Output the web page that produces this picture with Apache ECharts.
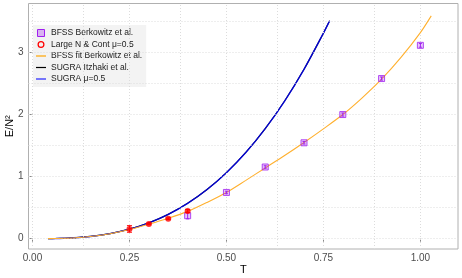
<!DOCTYPE html>
<html>
<head>
<meta charset="utf-8">
<script src="https://cdn.jsdelivr.net/npm/echarts@6/dist/echarts.min.js"></script>
<style>html,body{margin:0;padding:0;background:#fff}#c{width:462px;height:278px}</style>
</head>
<body>
<div id="c"></div>
<script>
// ---- data ----
const xTicks = [0, 0.25, 0.5, 0.75, 1.0];
const yTicks = [0, 1, 2, 3];
const xGrid = [0, 0.125, 0.25, 0.375, 0.5, 0.625, 0.75, 0.875, 1.0];
const yGrid = [0, 0.5, 1, 1.5, 2, 2.5, 3, 3.5];

const bfssT = [0.4, 0.5, 0.6, 0.7, 0.8, 0.9, 1.0];
const bfssE = [0.37, 0.745, 1.155, 1.545, 2.0, 2.58, 3.115];
const bfssErr = [0.05, 0.02, 0.02, 0.02, 0.025, 0.025, 0.03];

const largeNT = [0.25, 0.3, 0.35, 0.4];
const largeNE = [0.157, 0.237, 0.322, 0.446];
const largeNErr = [0.053, 0.012, 0.012, 0.025];

const fitT = [0.04, 0.06, 0.08, 0.1, 0.15, 0.2, 0.25, 0.3, 0.35, 0.4, 0.45, 0.5, 0.55, 0.6, 0.65, 0.7, 0.75, 0.8, 0.85, 0.9, 0.95, 1.0, 1.028];
const fitE = [0.001, 0.003, 0.006, 0.011, 0.036, 0.08, 0.148, 0.235, 0.33, 0.44, 0.585, 0.745, 0.94, 1.14, 1.34, 1.55, 1.77, 2.0, 2.27, 2.57, 2.92, 3.32, 3.59];

const sugraT = [0.04, 0.06, 0.08, 0.1, 0.15, 0.2, 0.25, 0.3, 0.35, 0.4, 0.45, 0.5, 0.55, 0.6, 0.65, 0.7, 0.75, 0.766];
const sugraE = [0.0009, 0.0028, 0.0063, 0.0117, 0.0365, 0.082, 0.153, 0.255, 0.392, 0.570, 0.792, 1.064, 1.389, 1.773, 2.218, 2.729, 3.311, 3.51];

const names = ['BFSS Berkowitz et al.', 'Large N & Cont \u03bc=0.5', 'BFSS fit Berkowitz et al.', 'SUGRA Itzhaki et al.', 'SUGRA \u03bc=0.5'];

// ---- build ----
const zip = (a, b) => a.map((v, i) => [v, b[i]]);
const errData = (t, e, d) => t.map((v, i) => [v, e[i] - d[i], e[i] + d[i]]);

function errRender(half, color) {
  return function (params, api) {
    const x = api.value(0);
    const lo = api.coord([x, api.value(1)]);
    const hi = api.coord([x, api.value(2)]);
    const st = { stroke: color, lineWidth: 1 };
    return {
      type: 'group',
      children: [
        { type: 'line', shape: { x1: lo[0], y1: lo[1], x2: hi[0], y2: hi[1] }, style: st },
        { type: 'line', shape: { x1: lo[0] - half, y1: lo[1], x2: lo[0] + half, y2: lo[1] }, style: st },
        { type: 'line', shape: { x1: hi[0] - half, y1: hi[1], x2: hi[0] + half, y2: hi[1] }, style: st }
      ]
    };
  };
}

const lineIcon = 'path://M0,0h20v2.4h-20z';
const squareIcon = 'path://M0,0h10v10h-10z';
const circleIcon = 'path://M5,0.6A4.4,4.4,0,1,1,4.99,0.6ZM5,2.2A2.8,2.8,0,1,0,5.01,2.2Z';
const font = 'Liberation Sans, Arial, sans-serif';
const gridLine = { color: '#dcdcdc', width: 1, type: [1, 2] };

const chart = echarts.init(document.getElementById('c'), null, { renderer: 'canvas' });
chart.setOption({
  animation: false,
  backgroundColor: '#ffffff',
  textStyle: { fontFamily: font },
  grid: { left: 28.5, right: 4, top: 3.5, bottom: 29, containLabel: false, outerBoundsMode: 'none', show: true, borderColor: '#b0b0b0', borderWidth: 1, backgroundColor: 'transparent' },
  legend: {
    orient: 'vertical', left: 33, top: 25,
    padding: [3, 4, 3, 3],
    backgroundColor: '#f3f3f3',
    itemWidth: 10, itemHeight: 7, itemGap: 1.5,
    textStyle: { fontSize: 8.5, color: '#1a1a1a', lineHeight: 10, fontFamily: font },
    data: [
      { name: names[0], icon: squareIcon, itemStyle: { color: 'rgba(160,32,240,0.3)', borderColor: '#a020f0', borderWidth: 1 } },
      { name: names[1], icon: circleIcon, itemStyle: { color: '#ff0000', borderWidth: 0 } },
      { name: names[2], icon: lineIcon },
      { name: names[3], icon: lineIcon },
      { name: names[4], icon: lineIcon }
    ]
  },
  xAxis: {
    type: 'value', min: -0.0103, max: 1.097,
    axisLine: { show: false },
    axisTick: { show: true, customValues: xTicks, length: 3, lineStyle: { color: '#888' } },
    axisLabel: { customValues: xTicks, formatter: v => v.toFixed(2), fontSize: 10, color: '#4d4d4d', margin: 4, fontFamily: font },
    splitLine: { show: false },
    name: 'T', nameLocation: 'middle', nameGap: 15, nameMoveOverlap: false,
    nameTextStyle: { fontSize: 11, color: '#000', fontFamily: font }
  },
  yAxis: {
    type: 'value', min: -0.166, max: 3.789,
    axisLine: { show: false },
    axisTick: { show: true, customValues: yTicks, length: 3, lineStyle: { color: '#888' } },
    axisLabel: { customValues: yTicks, fontSize: 10, color: '#4d4d4d', margin: 5, fontFamily: font },
    splitLine: { show: false },
    name: 'E/N\u00b2', nameLocation: 'middle', nameGap: 13, nameRotate: 90, nameMoveOverlap: false,
    nameTextStyle: { fontSize: 11, color: '#000', fontFamily: font }
  },
  series: [
    {
      type: 'line', name: '_grid', data: [], silent: true, z: 0,
      markLine: {
        silent: true, symbol: 'none', label: { show: false }, animation: false,
        lineStyle: gridLine,
        data: xGrid.map(v => ({ xAxis: v })).concat(yGrid.map(v => ({ yAxis: v })))
      }
    },
    {
      type: 'line', name: names[3], data: zip(sugraT, sugraE), showSymbol: false, smooth: 0.3, z: 3,
      lineStyle: { color: '#000', width: 1.2 }, itemStyle: { color: '#000' }
    },
    {
      type: 'line', name: names[4], data: zip(sugraT, sugraE), showSymbol: false, smooth: 0.3, z: 4,
      lineStyle: { color: '#0000ff', width: 1.4, opacity: 0.8 }, itemStyle: { color: '#2020ff' }
    },
    {
      type: 'line', name: names[2], data: zip(fitT, fitE), showSymbol: false, smooth: 0.3, z: 5,
      lineStyle: { color: '#ffb02e', width: 1.1 }, itemStyle: { color: '#ffa500' }
    },
    {
      type: 'custom', name: names[0], data: errData(bfssT, bfssE, bfssErr), z: 6,
      renderItem: errRender(1.5, '#a020f0'), encode: { x: 0, y: [1, 2] },
      itemStyle: { color: '#a020f0' }
    },
    {
      type: 'scatter', name: names[0], data: zip(bfssT, bfssE), symbol: 'rect', symbolSize: 6, z: 7,
      itemStyle: { color: 'rgba(160,32,240,0.3)', borderColor: '#a020f0', borderWidth: 1 }
    },
    {
      type: 'custom', name: names[1], data: errData(largeNT, largeNE, largeNErr), z: 8,
      renderItem: errRender(2.5, '#ff0000'), encode: { x: 0, y: [1, 2] },
      itemStyle: { color: '#ff0000' }
    },
    {
      type: 'scatter', name: names[1], data: zip(largeNT, largeNE), symbol: 'circle', symbolSize: 6, z: 9,
      itemStyle: { color: '#ff0000' }
    }
  ]
});
</script>
</body>
</html>
